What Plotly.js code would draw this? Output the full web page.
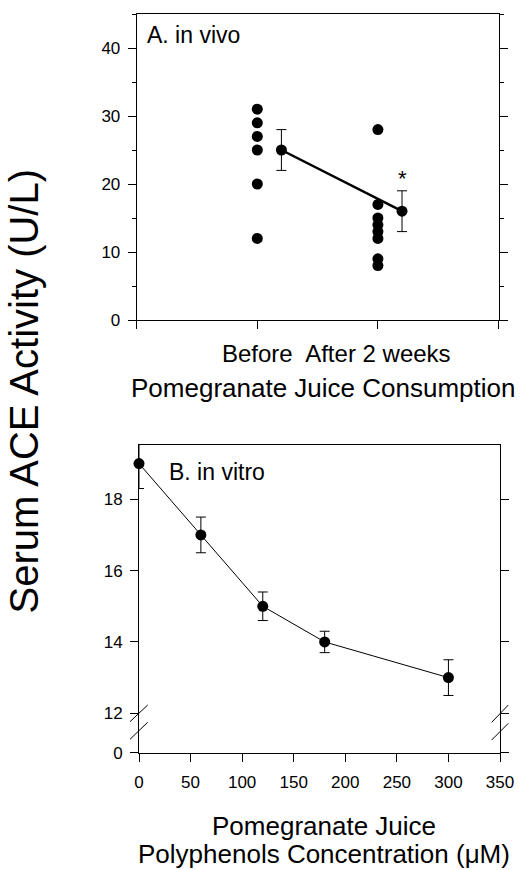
<!DOCTYPE html>
<html><head><meta charset="utf-8">
<script src="https://cdn.plot.ly/plotly-3.0.1.min.js"></script>
<style>html,body{margin:0;padding:0;background:#fff}#chart{width:530px;height:870px}</style>
</head><body><div id="chart"></div>
<script>
// ---------- Panel A: in vivo ----------
const groupLabels = ['Before', 'After 2 weeks'];
const beforeValues = [31, 29, 27, 25, 20, 12];
const afterValues = [28, 17, 15, 14, 13, 12, 9, 8];
const meanValues = [25, 16];
const meanErrors = [3, 3];
const yTicksA = [0, 10, 20, 30, 40];

// ---------- Panel B: in vitro ----------
const concentrations = [0, 60, 120, 180, 300];
const aceActivity = [19, 17, 15, 14, 13];
const aceErrors = [0.7, 0.5, 0.4, 0.3, 0.5];
const xTicksB = [0, 50, 100, 150, 200, 250, 300, 350];
const yTicksB = [12, 14, 16, 18];

// ---------- helpers (pixel -> paper) ----------
const W = 530, H = 870;
const fx = p => p / W;
const fy = p => 1 - p / H;
const FONT = '"Liberation Sans", Arial, sans-serif';
const BLACK = '#000';
const MEAN_OFFSET = 0.2;

const groupPos = groupLabels.map((_, i) => i + 1);

const traces = [
  { x: beforeValues.map(() => groupPos[0]), y: beforeValues, xaxis: 'x', yaxis: 'y',
    mode: 'markers', marker: { color: BLACK, size: 11 }, hoverinfo: 'skip' },
  { x: afterValues.map(() => groupPos[1]), y: afterValues, xaxis: 'x', yaxis: 'y',
    mode: 'markers', marker: { color: BLACK, size: 11 }, hoverinfo: 'skip' },
  { x: groupPos.map(p => p + MEAN_OFFSET), y: meanValues, xaxis: 'x', yaxis: 'y',
    mode: 'lines+markers', line: { color: BLACK, width: 2.5 }, marker: { color: BLACK, size: 11 },
    error_y: { type: 'data', array: meanErrors, visible: true, color: BLACK, thickness: 1, width: 5 } },
  { x: concentrations, y: aceActivity, xaxis: 'x2', yaxis: 'y2',
    mode: 'lines', line: { color: BLACK, width: 1 },
    error_y: { type: 'data', array: aceErrors, visible: true, color: BLACK, thickness: 1, width: 5 } },
  { x: concentrations, y: aceActivity, xaxis: 'x2', yaxis: 'y2', cliponaxis: false,
    mode: 'markers', marker: { color: BLACK, size: 11 } },
  // empty traces that only register the broken-axis stub and the top frame line as subplots
  { x: [], y: [], xaxis: 'x2', yaxis: 'y3', mode: 'markers', hoverinfo: 'skip' },
  { x: [], y: [], xaxis: 'x3', yaxis: 'y2', mode: 'markers', hoverinfo: 'skip' }
];

const axBase = {
  showline: true, linecolor: BLACK, linewidth: 1, showgrid: false, zeroline: false,
  ticks: 'outside', ticklen: 8, tickwidth: 1, tickcolor: BLACK, fixedrange: true
};

const layout = {
  width: W, height: H, margin: { l: 0, r: 0, t: 0, b: 0 },
  showlegend: false, paper_bgcolor: '#fff', plot_bgcolor: 'rgba(0,0,0,0)',
  font: { family: FONT, color: BLACK },
  xaxis: Object.assign({}, axBase, {
    domain: [fx(136.7), fx(498.5)], anchor: 'y', range: [0, 3], mirror: true,
    tickmode: 'array', tickvals: [0].concat(groupPos, [3]), ticktext: [''].concat(groupLabels, ['']),
    tickfont: { size: 24, family: FONT }, ticklabelstandoff: 4
  }),
  yaxis: Object.assign({}, axBase, {
    domain: [fy(320), fy(14)], anchor: 'x', range: [0, 45], mirror: 'ticks',
    tickmode: 'array', tickvals: yTicksA, tickfont: { size: 17, family: FONT }, ticklabelstandoff: 4,
    minor: { dtick: 5, tick0: 0, ticks: 'outside', ticklen: 4, tickcolor: BLACK, showgrid: false }
  }),
  xaxis2: Object.assign({}, axBase, {
    domain: [fx(139), fx(500)], anchor: 'y3', range: [0, 350],
    tickmode: 'array', tickvals: xTicksB, tickfont: { size: 17, family: FONT }, ticklabelstandoff: 6
  }),
  xaxis3: Object.assign({}, axBase, {
    domain: [fx(139), fx(500)], anchor: 'y2', side: 'top', range: [0, 350],
    ticks: '', showticklabels: false
  }),
  yaxis2: Object.assign({}, axBase, {
    domain: [fy(713.3), fy(445)], anchor: 'x2', range: [12, 19.52], mirror: 'ticks',
    tickmode: 'array', tickvals: yTicksB, tickfont: { size: 17, family: FONT }, ticklabelstandoff: 4
  }),
  yaxis3: Object.assign({}, axBase, {
    domain: [fy(752.7), fy(713.3)], anchor: 'x2', range: [0, 1], mirror: 'ticks',
    tickmode: 'array', tickvals: [0], tickfont: { size: 17, family: FONT }, ticklabelstandoff: 4
  }),
  annotations: [
    { text: 'Serum ACE Activity (U/L)', xref: 'paper', yref: 'paper', x: fx(24), y: fy(391.5),
      textangle: -90, showarrow: false, xanchor: 'center', yanchor: 'middle', font: { size: 40 } },
    { text: 'Pomegranate Juice Consumption', xref: 'paper', yref: 'paper', x: fx(322.5), y: fy(388),
      showarrow: false, xanchor: 'center', yanchor: 'middle', font: { size: 26 } },
    { text: 'Pomegranate Juice', xref: 'paper', yref: 'paper', x: fx(324), y: fy(826),
      showarrow: false, xanchor: 'center', yanchor: 'middle', font: { size: 26 } },
    { text: 'Polyphenols Concentration (μM)', xref: 'paper', yref: 'paper', x: fx(324), y: fy(854),
      showarrow: false, xanchor: 'center', yanchor: 'middle', font: { size: 26 } },
    { text: 'A. in vivo', xref: 'paper', yref: 'paper', x: fx(145), y: fy(35.3),
      showarrow: false, xanchor: 'left', yanchor: 'middle', font: { size: 23 } },
    { text: 'B. in vitro', xref: 'paper', yref: 'paper', x: fx(167), y: fy(471.7),
      showarrow: false, xanchor: 'left', yanchor: 'middle', font: { size: 23 } },
    { text: '*', xref: 'x', yref: 'y', x: groupPos[1] + MEAN_OFFSET, y: meanValues[1] + meanErrors[1],
      showarrow: false, xanchor: 'center', yanchor: 'bottom', yshift: -2, font: { size: 22 } }
  ],
  shapes: [
    [130, 721.7, 147.7, 705], [130, 739.3, 147.7, 722.3],
    [491.7, 722.3, 508.3, 705], [491.7, 740, 508.3, 723.3]
  ].map(s => ({ type: 'line', xref: 'paper', yref: 'paper', x0: fx(s[0]), y0: fy(s[1]), x1: fx(s[2]), y1: fy(s[3]),
    line: { color: BLACK, width: 1 } }))
};

Plotly.newPlot('chart', traces, layout, { staticPlot: true, displayModeBar: false });
</script>
</body></html>
